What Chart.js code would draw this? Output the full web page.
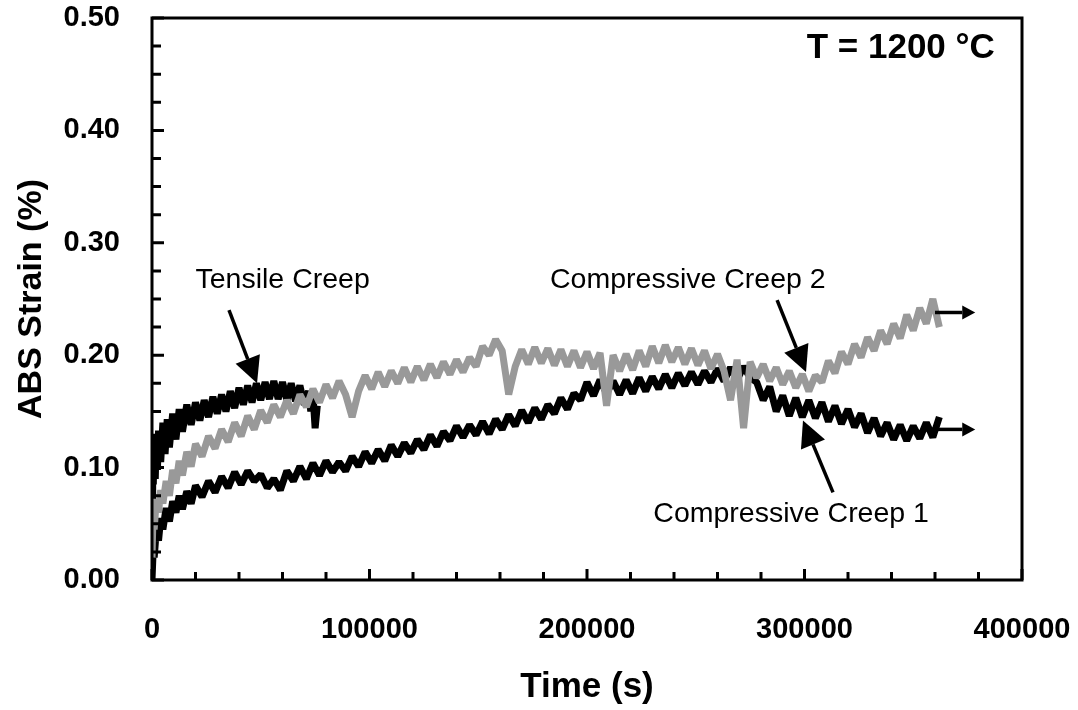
<!DOCTYPE html>
<html>
<head>
<meta charset="utf-8">
<script src="https://cdn.jsdelivr.net/npm/chart.js@4/dist/chart.umd.min.js"></script>
<style>
  html, body { margin: 0; padding: 0; background: #fff; }
  #wrap { width: 1078px; height: 710px; position: relative; }
</style>
</head>
<body>
<div id="wrap"><canvas id="chart"></canvas></div>
<script>
// time (s) for the two compressive runs
var timeComp = [0, 500, 1000, 2000, 3000, 4000, 5000, 6500, 8000, 9500, 11000, 12500, 14000, 16000, 18000, 20000,
  23000, 26000, 29000, 32000, 35000, 38000, 41000, 44000, 47000, 50000, 53000, 56000, 59000, 62000, 65000, 68000,
  71000, 74000, 77000, 80000, 83000, 86000, 89000, 92000, 95000, 98000, 101000, 104000, 107000, 110000, 113000,
  116000, 119000, 122000, 125000, 128000, 131000, 134000, 137000, 140000, 143000, 146000, 149000, 152000, 155000,
  158000, 161000, 164000, 167000, 170000, 173000, 176000, 179000, 182000, 185000, 188000, 191000, 194000, 197000,
  200000, 203000, 206000, 209000, 212000, 215000, 218000, 221000, 224000, 227000, 230000, 233000, 236000, 239000,
  242000, 245000, 248000, 251000, 254000, 257000, 260000, 263000, 266000, 269000, 272000, 275000, 278000, 281000,
  284000, 287000, 290000, 293000, 296000, 299000, 302000, 305000, 308000, 311000, 314000, 317000, 320000, 323000,
  326000, 329000, 332000, 335000, 338000, 341000, 344000, 347000, 350000, 353000, 356000, 359000, 362000];

var compCreep1 = [0.000, 0.025, 0.020, 0.045, 0.035, 0.055, 0.045, 0.064, 0.052, 0.070, 0.060, 0.075, 0.063, 0.079, 0.068, 0.084,
  0.074, 0.088, 0.078, 0.092, 0.082, 0.096, 0.085, 0.097, 0.088, 0.094, 0.082, 0.090, 0.080, 0.097, 0.088, 0.101,
  0.090, 0.104, 0.093, 0.106, 0.096, 0.105, 0.097, 0.110, 0.101, 0.114, 0.104, 0.116, 0.106, 0.120, 0.110,
  0.122, 0.113, 0.125, 0.116, 0.129, 0.119, 0.132, 0.124, 0.137, 0.127, 0.138, 0.129, 0.141, 0.130,
  0.143, 0.134, 0.147, 0.137, 0.151, 0.140, 0.153, 0.143, 0.156, 0.148, 0.162, 0.152, 0.166, 0.160,
  0.176, 0.164, 0.178, 0.166, 0.177, 0.165, 0.178, 0.166, 0.180, 0.168, 0.181, 0.170, 0.183, 0.171,
  0.184, 0.173, 0.185, 0.174, 0.186, 0.176, 0.188, 0.177, 0.189, 0.178, 0.190, 0.180, 0.176, 0.160,
  0.172, 0.150, 0.164, 0.146, 0.162, 0.145, 0.160, 0.144, 0.158, 0.141, 0.155, 0.139, 0.152, 0.136,
  0.148, 0.131, 0.144, 0.128, 0.140, 0.125, 0.138, 0.124, 0.137, 0.126, 0.140, 0.127, 0.145];

var compCreep2 = [0.020, 0.060, 0.045, 0.072, 0.060, 0.080, 0.068, 0.088, 0.075, 0.098, 0.086, 0.106, 0.093, 0.114, 0.101, 0.121,
  0.110, 0.128, 0.117, 0.134, 0.123, 0.140, 0.128, 0.146, 0.134, 0.151, 0.140, 0.156, 0.145, 0.160, 0.148, 0.165,
  0.154, 0.170, 0.158, 0.174, 0.162, 0.177, 0.165, 0.145, 0.168, 0.182, 0.170, 0.185, 0.172, 0.186, 0.175,
  0.189, 0.176, 0.190, 0.178, 0.192, 0.180, 0.194, 0.183, 0.196, 0.185, 0.198, 0.190, 0.208, 0.200,
  0.214, 0.204, 0.165, 0.190, 0.205, 0.192, 0.207, 0.193, 0.206, 0.191, 0.205, 0.190, 0.204, 0.189,
  0.203, 0.188, 0.202, 0.155, 0.200, 0.186, 0.201, 0.187, 0.204, 0.190, 0.208, 0.193, 0.209, 0.194,
  0.207, 0.192, 0.206, 0.191, 0.204, 0.188, 0.201, 0.186, 0.160, 0.196, 0.135, 0.194, 0.180, 0.192,
  0.177, 0.189, 0.174, 0.186, 0.171, 0.183, 0.168, 0.182, 0.176, 0.195, 0.184, 0.203, 0.192, 0.210,
  0.198, 0.216, 0.204, 0.222, 0.210, 0.228, 0.215, 0.236, 0.222, 0.242, 0.228, 0.250, 0.225];

// tensile run
var timeTens = [0, 300, 600, 1000, 1500, 2000, 2500, 3000, 4000, 5000, 6000, 7000, 8000, 9500, 11000, 12500, 14000,
  16000, 18000, 20000, 22000, 24000, 26000, 28000, 30000, 32000, 34000, 36000, 38000, 40000, 42000, 44000, 46000,
  48000, 50000, 52000, 54000, 56000, 58000, 60000, 62000, 64000, 66000, 68000, 70000, 72000, 73000, 74000, 75000, 76000];

var tensCreep = [0.070, 0.120, 0.085, 0.125, 0.090, 0.130, 0.098, 0.133, 0.105, 0.140, 0.112, 0.143, 0.118, 0.148, 0.125, 0.152, 0.132,
  0.156, 0.138, 0.158, 0.142, 0.160, 0.145, 0.163, 0.148, 0.165, 0.150, 0.168, 0.153, 0.171, 0.156, 0.173, 0.158,
  0.175, 0.160, 0.176, 0.161, 0.177, 0.161, 0.176, 0.160, 0.175, 0.159, 0.173, 0.156, 0.168, 0.150, 0.165, 0.135, 0.155];

var xTicks = [0, 100000, 200000, 300000, 400000];
var yTicks = [0, 0.1, 0.2, 0.3, 0.4, 0.5];

function pairs(xs, ys) {
    var out = [];
    for (var i = 0; i < xs.length; i++) out.push({x: xs[i], y: ys[i]});
    return out;
}

var FONT = 'Arial, "Liberation Sans", sans-serif';

// annotation positions in data units: [text, x, y]
var labels = [
    ['Tensile Creep', 20000, 0.267],
    ['Compressive Creep 2', 183000, 0.267],
    ['Compressive Creep 1', 230500, 0.059]
];
// arrows: [x0, y0, x1, y1, headLen, headHalf]
var arrows = [
    [35400, 0.240, 48300, 0.175, 26, 13],
    [287400, 0.249, 300700, 0.185, 26, 13],
    [313100, 0.078, 299300, 0.142, 26, 13],
    [360000, 0.238, 378500, 0.238, 13, 7],
    [360000, 0.134, 378500, 0.134, 13, 7]
];

var extras = {
    id: 'extras',
    afterDatasetsDraw: function(chart) {
        var ctx = chart.ctx, xs = chart.scales.x, ys = chart.scales.y, a = chart.chartArea;
        ctx.save();
        // frame
        ctx.strokeStyle = '#000';
        ctx.lineWidth = 3;
        ctx.strokeRect(a.left, a.top, a.right - a.left, a.bottom - a.top);
        // inward ticks
        ctx.beginPath();
        for (var v = 0; v <= 400000; v += 20000) {
            var px = xs.getPixelForValue(v);
            var len = (v % 100000 === 0) ? 11 : 8;
            ctx.moveTo(px, a.bottom);
            ctx.lineTo(px, a.bottom - len);
        }
        for (var k = 0; k <= 20; k++) {
            var py = ys.getPixelForValue(k * 0.025);
            var ln = (k % 4 === 0) ? 12 : 9;
            ctx.moveTo(a.left, py);
            ctx.lineTo(a.left + ln, py);
        }
        ctx.stroke();

        // arrows
        ctx.fillStyle = '#000';
        arrows.forEach(function(r) {
            var x0 = xs.getPixelForValue(r[0]), y0 = ys.getPixelForValue(r[1]);
            var x1 = xs.getPixelForValue(r[2]), y1 = ys.getPixelForValue(r[3]);
            var ang = Math.atan2(y1 - y0, x1 - x0);
            var hl = r[4], hw = r[5];
            var bx = x1 - hl * Math.cos(ang), by = y1 - hl * Math.sin(ang);
            ctx.lineWidth = 3.5;
            ctx.beginPath();
            ctx.moveTo(x0, y0);
            ctx.lineTo(bx, by);
            ctx.stroke();
            ctx.beginPath();
            ctx.moveTo(x1, y1);
            ctx.lineTo(bx + hw * Math.sin(ang), by - hw * Math.cos(ang));
            ctx.lineTo(bx - hw * Math.sin(ang), by + hw * Math.cos(ang));
            ctx.closePath();
            ctx.fill();
        });

        // text
        ctx.textBaseline = 'middle';
        ctx.textAlign = 'left';
        ctx.font = '28.5px ' + FONT;
        labels.forEach(function(l) {
            ctx.fillText(l[0], xs.getPixelForValue(l[1]), ys.getPixelForValue(l[2]));
        });
        ctx.textAlign = 'right';
        ctx.font = 'bold 35px ' + FONT;
        ctx.fillText('T = 1200 °C', xs.getPixelForValue(387500), ys.getPixelForValue(0.473));
        ctx.restore();
    }
};

var lineStyle = { showLine: true, borderWidth: 7, pointRadius: 0, borderJoinStyle: 'bevel' };

var ctx = document.getElementById('chart').getContext('2d');
var chart = new Chart(ctx, {
    type: 'scatter',
    data: {
        datasets: [
            Object.assign({ label: 'Compressive Creep 2', data: pairs(timeComp, compCreep2), borderColor: '#999999', order: 0 }, lineStyle),
            Object.assign({ label: 'Compressive Creep 1', data: pairs(timeComp, compCreep1), borderColor: '#000000', order: 1 }, lineStyle),
            Object.assign({ label: 'Tensile Creep', data: pairs(timeTens, tensCreep), borderColor: '#000000', order: 2 }, lineStyle)
        ]
    },
    options: {
        responsive: true,
        maintainAspectRatio: false,
        animation: false,
        layout: { padding: { top: 18, right: 56, left: 0, bottom: 0 } },
        plugins: {
            legend: { display: false },
            tooltip: { enabled: false }
        },
        scales: {
            x: {
                type: 'linear',
                min: 0,
                max: 400000,
                afterFit: function(s) {
                    s.height = 130;
                    s.paddingLeft = 0; s.paddingRight = 0; s.paddingTop = 0; s.paddingBottom = 0;
                },
                afterBuildTicks: function(s) { s.ticks = xTicks.map(function(v) { return {value: v}; }); },
                grid: { display: false, drawTicks: false },
                border: { display: false },
                ticks: {
                    color: '#000',
                    padding: 33,
                    maxRotation: 0,
                    font: { family: FONT, size: 29, weight: 'bold' },
                    callback: function(v) { return String(v); }
                },
                title: {
                    display: true,
                    text: 'Time (s)',
                    color: '#000',
                    padding: { top: 0, bottom: 2 },
                    font: { family: FONT, size: 35, weight: 'bold' }
                }
            },
            y: {
                min: 0,
                max: 0.5,
                afterFit: function(s) {
                    s.width = 152;
                    s.paddingLeft = 0; s.paddingRight = 0; s.paddingTop = 0; s.paddingBottom = 0;
                },
                afterBuildTicks: function(s) { s.ticks = yTicks.map(function(v) { return {value: v}; }); },
                grid: { display: false, drawTicks: false },
                border: { display: false },
                ticks: {
                    color: '#000',
                    padding: 32,
                    font: { family: FONT, size: 29, weight: 'bold' },
                    callback: function(v) { return Number(v).toFixed(2); }
                },
                title: {
                    display: true,
                    text: 'ABS Strain (%)',
                    color: '#000',
                    padding: { top: 11, bottom: 0 },
                    font: { family: FONT, size: 34, weight: 'bold' }
                }
            }
        }
    },
    plugins: [extras]
});
</script>
</body>
</html>
